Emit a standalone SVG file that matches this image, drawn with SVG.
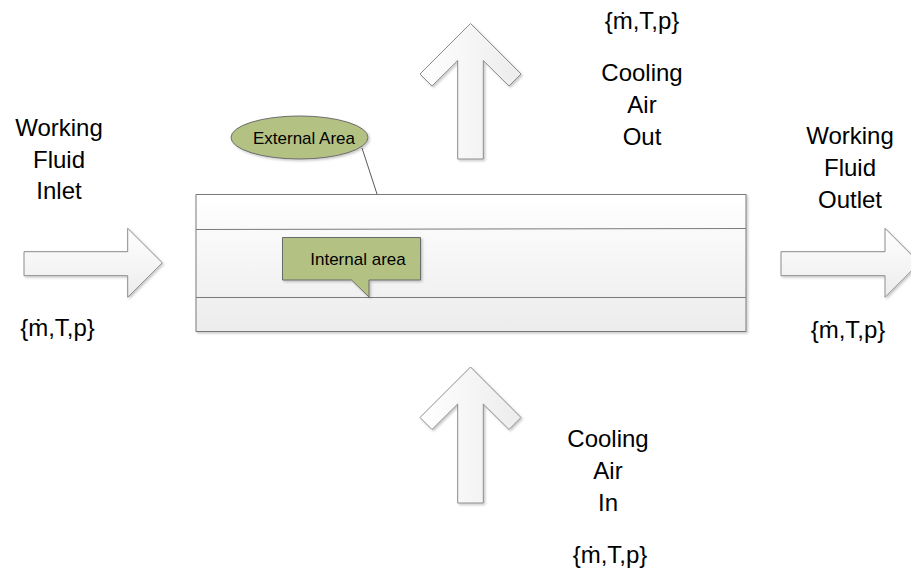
<svg xmlns="http://www.w3.org/2000/svg" width="911" height="569" viewBox="0 0 911 569">
  <defs>
    <linearGradient id="gV" x1="0" y1="0" x2="0" y2="1">
      <stop offset="0" stop-color="#ffffff"/>
      <stop offset="1" stop-color="#ececec"/>
    </linearGradient>
    <linearGradient id="gH" x1="0" y1="0" x2="1" y2="0">
      <stop offset="0" stop-color="#ffffff"/>
      <stop offset="1" stop-color="#ececec"/>
    </linearGradient>
    <filter id="sh" x="-10%" y="-10%" width="130%" height="130%">
      <feDropShadow dx="1.5" dy="1.5" stdDeviation="1.2" flood-color="#000" flood-opacity="0.22"/>
    </filter>
  </defs>
  <style>
    .lbl { font-family: "Liberation Sans", Arial, sans-serif; font-size: 24px; fill: #000; text-anchor: middle; }
    .small { font-family: "Liberation Sans", Arial, sans-serif; font-size: 17px; fill: #000; text-anchor: middle; }
    .arrowH { fill: url(#gV); stroke: #8c8c8c; stroke-width: 1; filter: url(#sh); }
    .arrowV { fill: url(#gH); stroke: #8c8c8c; stroke-width: 1; filter: url(#sh); }
    .green { fill: #b3c283; stroke: #6b6b6b; stroke-width: 1; filter: url(#sh); }
    .conn { stroke: #595959; stroke-width: 1; fill: none; }
  </style>
  <rect width="911" height="569" fill="#ffffff"/>

  <g id="connectors">
    <line class="conn" x1="362" y1="148" x2="377" y2="194"/>
  </g>

  <g id="pipe">
    <rect x="196" y="194.5" width="550" height="137" fill="url(#gV)" stroke="#7a7a7a" stroke-width="1" filter="url(#sh)"/>
    <line x1="196" y1="229.5" x2="746" y2="228.5" stroke="#7a7a7a" stroke-width="1"/>
    <line x1="196" y1="297.5" x2="746" y2="297.5" stroke="#7a7a7a" stroke-width="1"/>
  </g>

  <g id="external-area">
    <ellipse class="green" cx="299.5" cy="137.5" rx="68.5" ry="21.5"/>
    <text class="small" x="304" y="143.5">External Area</text>
  </g>

  <g id="internal-area">
    <path class="green" d="M282.5,237.5 H420.5 V280 H369 V297 L351.5,280 H282.5 Z"/>
    <text class="small" x="358" y="264.5">Internal area</text>
  </g>

  <g id="inlet-arrow">
    <path class="arrowH" d="M24,251.7 H127.7 V228.3 L162.3,262.8 L127.7,297.3 V275.7 H24 Z"/>
  </g>
  <g id="outlet-arrow">
    <path class="arrowH" d="M781,251.7 H885 V228.3 L919.5,262.8 L885,297.3 V275.7 H781 Z"/>
  </g>
  <g id="air-out-arrow">
    <path class="arrowV" d="M470.5,23.5 L521,74 L509,86 L483.3,60.5 V159 H457.7 V60.5 L432,86 L420,74 Z"/>
  </g>
  <g id="air-in-arrow">
    <path class="arrowV" d="M470.5,367 L521,417.5 L509,429.5 L483.3,404 V503 H457.7 V404 L432,429.5 L420,417.5 Z"/>
  </g>

  <g id="inlet-label">
    <text class="lbl" x="59" y="136">Working</text>
    <text class="lbl" x="59" y="168">Fluid</text>
    <text class="lbl" x="59" y="199">Inlet</text>
    <text class="lbl" x="57.5" y="336">{ṁ,T,p}</text>
  </g>
  <g id="outlet-label">
    <text class="lbl" x="850" y="144">Working</text>
    <text class="lbl" x="850" y="176">Fluid</text>
    <text class="lbl" x="850" y="208">Outlet</text>
    <text class="lbl" x="848" y="338">{ṁ,T,p}</text>
  </g>
  <g id="air-out-label">
    <text class="lbl" x="642" y="29">{ṁ,T,p}</text>
    <text class="lbl" x="642" y="81">Cooling</text>
    <text class="lbl" x="642" y="113">Air</text>
    <text class="lbl" x="642" y="145">Out</text>
  </g>
  <g id="air-in-label">
    <text class="lbl" x="608" y="447">Cooling</text>
    <text class="lbl" x="608" y="479">Air</text>
    <text class="lbl" x="608" y="511">In</text>
    <text class="lbl" x="610" y="563">{ṁ,T,p}</text>
  </g>
</svg>
